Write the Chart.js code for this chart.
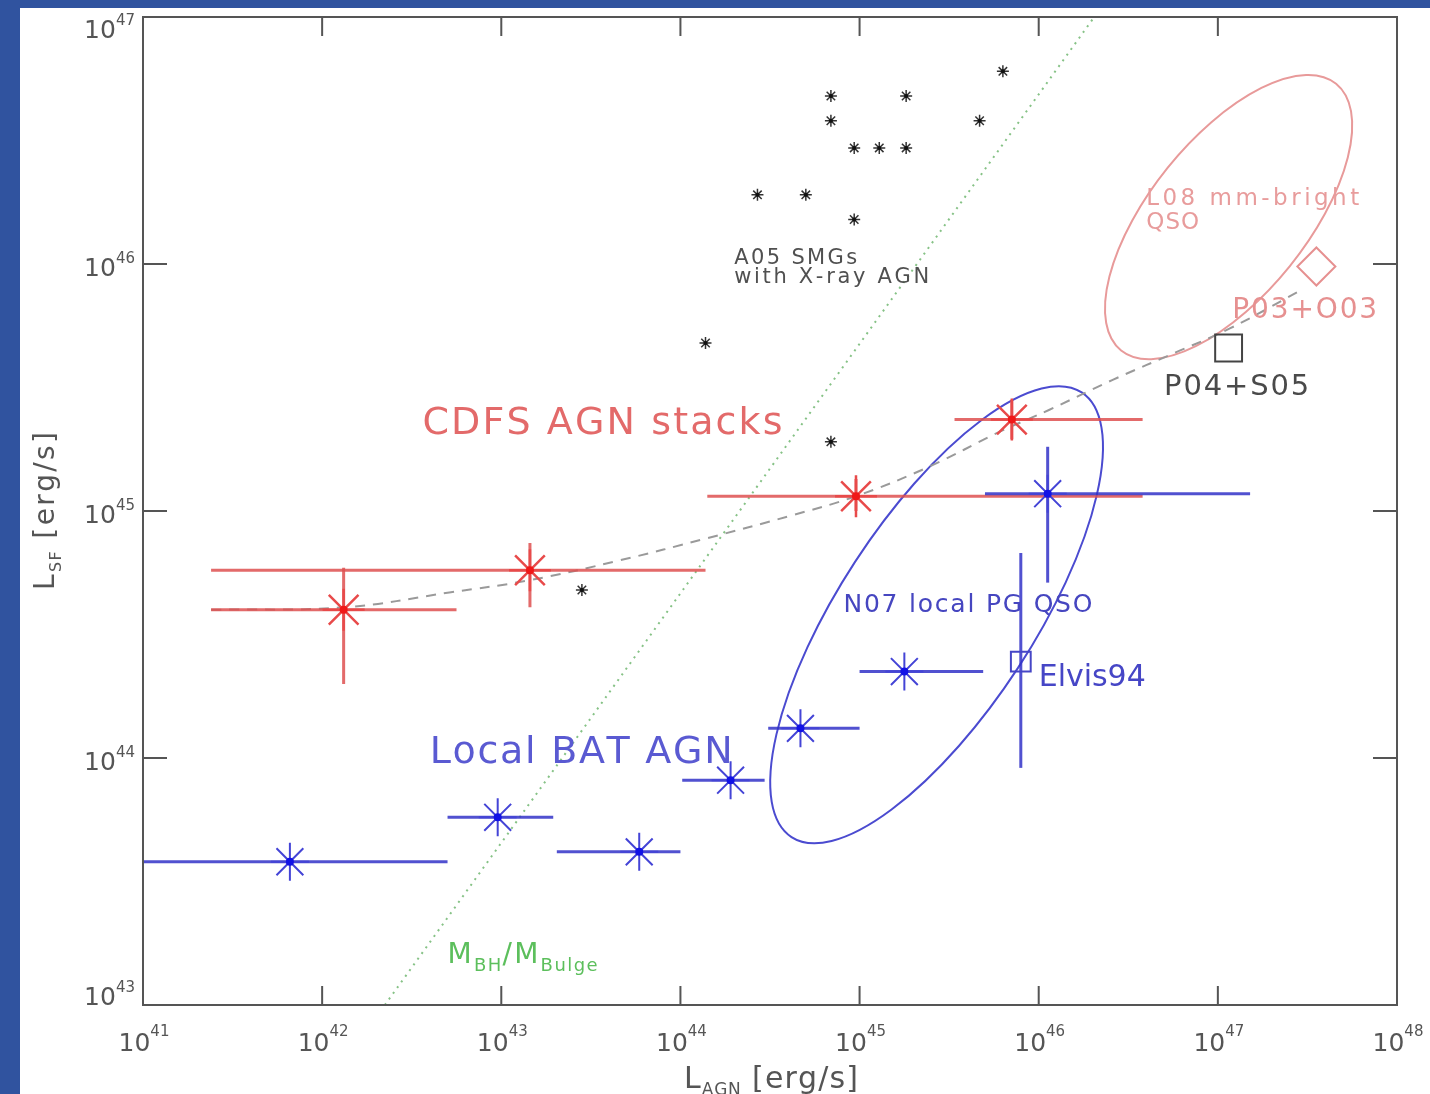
<!DOCTYPE html>
<html>
<head>
<meta charset="utf-8">
<script src="https://cdn.jsdelivr.net/npm/chart.js@4.4.1/dist/chart.umd.min.js"></script>
<style>
  html, body { margin: 0; padding: 0; background: #30539f; overflow: hidden; }
  #panel { position: absolute; left: 20px; top: 8px; width: 1410px; height: 1086px; background: #fff; }
</style>
</head>
<body>
<div id="panel"><canvas id="chart" width="1410" height="1086"></canvas></div>
<script>
// ══════════════════════════════════════════════════
//  DATA  (all values are log10 of the luminosity in erg/s)
// ══════════════════════════════════════════════════
const xDecades = [41, 42, 43, 44, 45, 46, 47, 48];
const yDecades = [43, 44, 45, 46, 47];

// CDFS AGN stacks (red)
const cdfsX   = [42.12, 43.16, 44.98, 45.85];
const cdfsY   = [44.60, 44.76, 45.06, 45.37];
const cdfsXlo = [41.38, 41.38, 44.15, 45.53];
const cdfsXhi = [42.75, 44.14, 46.58, 46.58];
const cdfsYlo = [44.30, 44.61, 45.00, 45.29];
const cdfsYhi = [44.77, 44.87, 45.13, 45.45];

// Local BAT AGN (blue)
const batX   = [41.82, 42.98, 43.77, 44.28, 44.67, 45.25];
const batY   = [43.58, 43.76, 43.62, 43.91, 44.12, 44.35];
const batXlo = [41.00, 42.70, 43.31, 44.01, 44.49, 45.00];
const batXhi = [42.70, 43.29, 44.00, 44.47, 45.00, 45.69];

// N07 local PG QSO mean (blue)
const pgX = [46.05], pgY = [45.07];
const pgXlo = [45.70], pgXhi = [47.18];
const pgYlo = [44.71], pgYhi = [45.26];

// Elvis94 (blue square)
const elvisX = [45.90], elvisY = [44.39];
const elvisYlo = [43.96], elvisYhi = [44.83];

// A05 SMGs with X-ray AGN (black)
const smgX = [45.80, 44.84, 45.26, 44.84, 45.67, 44.97, 45.11, 45.26, 44.43, 44.70, 44.97, 44.14, 44.84, 43.45];
const smgY = [46.78, 46.68, 46.68, 46.58, 46.58, 46.47, 46.47, 46.47, 46.28, 46.28, 46.18, 45.68, 45.28, 44.68];

// single objects
const p04X = [47.06], p04Y = [45.66];
const p03X = [47.55], p03Y = [45.99];

// dashed grey track
const trackX = [41.38, 42.12, 42.71, 43.16, 43.66, 44.15, 44.61, 44.98, 45.39, 45.78, 46.06, 46.41, 46.79, 47.07, 47.48];
const trackY = [44.60, 44.61, 44.67, 44.72, 44.80, 44.89, 44.98, 45.06, 45.18, 45.32, 45.41, 45.53, 45.65, 45.74, 45.90];

// M_BH / M_Bulge relation (dotted green)
const bulgeX = [42.35, 46.31];
const bulgeY = [43.00, 47.00];

// ellipses: centre, end of major axis, end of minor axis  [x, y]
const n07Ellipse = [[45.43, 44.58], [46.24, 45.48], [45.88, 44.36]];
const l08Ellipse = [[47.06, 46.19], [47.66, 46.73], [47.40, 45.99]];

// ══════════════════════════════════════════════════
//  HELPERS
// ══════════════════════════════════════════════════
const FONT = "'DejaVu Sans', 'Liberation Sans', sans-serif";
const P = v => Math.pow(10, v);
const pts = (xs, ys) => xs.map((x, i) => ({ x: P(x), y: P(ys[i]) }));

function hBars(ys, lo, hi) {
  const out = [];
  ys.forEach((y, i) => {
    out.push({ x: P(lo[i]), y: P(y) }, { x: P(hi[i]), y: P(y) }, { x: P(hi[i]), y: null });
  });
  return out;
}
function vBars(xs, lo, hi) {
  const out = [];
  xs.forEach((x, i) => {
    out.push({ x: P(x), y: P(lo[i]) }, { x: P(x), y: P(hi[i]) }, { x: P(x), y: null });
  });
  return out;
}

function barSet(data, color, order) {
  return { data, showLine: true, spanGaps: false, borderColor: color, borderWidth: 3,
           pointRadius: 0, order };
}
function markSet(data, style, r, color, bw, order) {
  return { data, showLine: false, pointStyle: style, pointRadius: r, borderColor: color,
           pointBorderColor: color, pointBackgroundColor: 'rgba(0,0,0,0)', pointBorderWidth: bw, order };
}
function dotSet(data, r, color, order) {
  return { data, showLine: false, pointStyle: 'circle', pointRadius: r,
           pointBackgroundColor: color, pointBorderColor: color, pointBorderWidth: 0, order };
}

// text with sub/superscripts: parts = [[text, size, dy], ...]
// extra letter spacing (to reach width w) is shared out in proportion to font size
function drawRich(ctx, parts, x, y, color, w, align) {
  ctx.save();
  ctx.fillStyle = color;
  ctx.textAlign = 'left';
  ctx.textBaseline = 'alphabetic';
  const chars = [];
  parts.forEach(p => {
    ctx.font = `${p[1]}px ${FONT}`;
    for (const ch of p[0]) chars.push({ ch, size: p[1], dy: p[2] || 0, w: ctx.measureText(ch).width });
  });
  const nat = chars.reduce((a, c) => a + c.w, 0);
  const sizeSum = chars.slice(0, -1).reduce((a, c) => a + c.size, 0) || 1;
  const k = w ? (w - nat) / sizeSum : 0;
  const total = w || nat;
  let cx = align === 'center' ? x - total / 2 : align === 'right' ? x - total : x;
  chars.forEach(c => {
    ctx.font = `${c.size}px ${FONT}`;
    ctx.fillText(c.ch, cx, y + c.dy);
    cx += c.w + k * c.size;
  });
  ctx.restore();
}

// annotations placed in data coordinates (left edge, baseline)
const notes = [
  { parts: [['A05 SMGs', 21]],        x: 44.30, y: 46.00, w: 123, color: '#505050' },
  { parts: [['with X-ray AGN', 21]],  x: 44.30, y: 45.925, w: 195, color: '#505050' },
  { parts: [['CDFS AGN stacks', 38]], x: 42.56, y: 45.31, w: 360, color: '#e36a6a' },
  { parts: [['Local BAT AGN', 38]],   x: 42.60, y: 43.98, w: 303, color: '#5a5ad2' },
  { parts: [['N07 local PG QSO', 25]],x: 44.91, y: 44.59, w: 249, color: '#4646c0' },
  { parts: [['Elvis94', 30]],         x: 46.00, y: 44.29, w: 107, color: '#4646c6' },
  { parts: [['L08 mm-bright', 23]],   x: 46.60, y: 46.24, w: 213, color: '#e89c9c' },
  { parts: [['QSO', 23]],             x: 46.60, y: 46.14, w: 53,  color: '#e89c9c' },
  { parts: [['P03+O03', 28]],         x: 47.08, y: 45.78, w: 145, color: '#e69090' },
  { parts: [['P04+S05', 29]],         x: 46.70, y: 45.47, w: 145, color: '#4a4a4a' },
  { parts: [['M', 28], ['BH', 18, 8], ['/', 28], ['M', 28], ['Bulge', 18, 8]],
    x: 42.70, y: 43.17, w: 150, color: '#5cbf5c' },
];

// ══════════════════════════════════════════════════
//  PLUGIN: frame, ticks, labels, ellipses, notes
// ══════════════════════════════════════════════════
const framePlugin = {
  id: 'frame',
  beforeDatasetsDraw(chart) {
    const { ctx, scales: { x: xs, y: ys } } = chart;
    const px = v => xs.getPixelForValue(P(v)), py = v => ys.getPixelForValue(P(v));
    [[n07Ellipse, '#4b4bd0'], [l08Ellipse, '#e89a9a']].forEach(([e, col]) => {
      const c = [px(e[0][0]), py(e[0][1])], m = [px(e[1][0]), py(e[1][1])], n = [px(e[2][0]), py(e[2][1])];
      const a = Math.hypot(m[0] - c[0], m[1] - c[1]);
      const b = Math.hypot(n[0] - c[0], n[1] - c[1]);
      const rot = Math.atan2(m[1] - c[1], m[0] - c[0]);
      ctx.save();
      ctx.strokeStyle = col; ctx.lineWidth = 2;
      ctx.beginPath(); ctx.ellipse(c[0], c[1], a, b, rot, 0, Math.PI * 2); ctx.stroke();
      ctx.restore();
    });
  },
  afterDraw(chart) {
    const { ctx, chartArea: ca, scales: { x: xs, y: ys } } = chart;
    const px = v => xs.getPixelForValue(P(v)), py = v => ys.getPixelForValue(P(v));
    ctx.save();
    ctx.strokeStyle = '#555'; ctx.lineWidth = 2;
    ctx.strokeRect(ca.left, ca.top, ca.right - ca.left, ca.bottom - ca.top);
    ctx.beginPath();
    xDecades.forEach(d => {
      const x = px(d);
      ctx.moveTo(x, ca.bottom); ctx.lineTo(x, ca.bottom - 19);
      ctx.moveTo(x, ca.top); ctx.lineTo(x, ca.top + 19);
    });
    yDecades.forEach(d => {
      const y = py(d);
      ctx.moveTo(ca.left, y); ctx.lineTo(ca.left + 24, y);
      ctx.moveTo(ca.right, y); ctx.lineTo(ca.right - 24, y);
    });
    ctx.stroke();
    ctx.restore();

    // tick labels
    xDecades.forEach(d => {
      drawRich(ctx, [['10', 25], [String(d), 15, -15]], px(d) + 1, ca.bottom + 46, '#555', 0, 'center');
    });
    yDecades.forEach(d => {
      const base = Math.min(Math.max(py(d) + 12, ca.top + 21), ca.bottom);
      drawRich(ctx, [['10', 25], [String(d), 15, -13]], ca.left - 8, base, '#555', 0, 'right');
    });

    // axis titles
    drawRich(ctx, [['L', 30], ['AGN', 17, 7], [' [erg/s]', 30]], 751, 1080, '#555', 174, 'center');
    ctx.save();
    ctx.translate(34, 503);
    ctx.rotate(-Math.PI / 2);
    drawRich(ctx, [['L', 28], ['SF', 16, 7], [' [erg/s]', 28]], 0, 0, '#555', 158, 'center');
    ctx.restore();

    notes.forEach(nt => drawRich(ctx, nt.parts, px(nt.x), py(nt.y), nt.color, nt.w, 'left'));
  }
};

// ══════════════════════════════════════════════════
//  CHART
// ══════════════════════════════════════════════════
const RED_BAR = 'rgba(222,80,80,0.85)', RED_MARK = '#e84a4a', RED_DOT = '#f01818';
const BLUE_BAR = 'rgba(50,50,200,0.85)', BLUE_MARK = '#4444d6', BLUE_DOT = '#1212e6';

const datasets = [
  // markers on top
  dotSet(pts(cdfsX, cdfsY), 4, RED_DOT, 1),
  dotSet(pts(batX, batY), 4, BLUE_DOT, 1),
  dotSet(pts(pgX, pgY), 4, BLUE_DOT, 1),
  dotSet(pts(smgX, smgY), 2, '#111', 1),
  markSet(pts(cdfsX, cdfsY), 'star', 21, RED_MARK, 2.5, 2),
  markSet(pts(batX, batY), 'star', 19, BLUE_MARK, 2, 2),
  markSet(pts(pgX, pgY), 'star', 19, BLUE_MARK, 2, 2),
  markSet(pts(smgX, smgY), 'star', 6, '#333', 1.5, 2),
  markSet(pts(elvisX, elvisY), 'rect', 14, '#4646c6', 2, 2),
  markSet(pts(p04X, p04Y), 'rect', 19, '#444', 2, 2),
  markSet(pts(p03X, p03Y), 'rectRot', 19, '#e69090', 2, 2),
  // error bars
  barSet(hBars(pgY, pgXlo, pgXhi), BLUE_BAR, 4),
  barSet(vBars(pgX, pgYlo, pgYhi), BLUE_BAR, 4),
  barSet(vBars(elvisX, elvisYlo, elvisYhi), BLUE_BAR, 4),
  barSet(hBars(batY, batXlo, batXhi), BLUE_BAR, 4),
  barSet(hBars(cdfsY, cdfsXlo, cdfsXhi), RED_BAR, 5),
  barSet(vBars(cdfsX, cdfsYlo, cdfsYhi), RED_BAR, 5),
  // lines
  { data: pts(trackX, trackY), showLine: true, borderColor: '#9a9a9a', borderWidth: 2,
    borderDash: [10, 8], pointRadius: 0, tension: 0.4, order: 8 },
  { data: pts(bulgeX, bulgeY), showLine: true, borderColor: '#86c286', borderWidth: 2,
    borderDash: [2, 5], pointRadius: 0, order: 9 },
];

new Chart(document.getElementById('chart').getContext('2d'), {
  type: 'scatter',
  data: { datasets },
  options: {
    responsive: false,
    animation: false,
    events: [],
    layout: { autoPadding: false, padding: { left: 123, top: 9, right: 33, bottom: 89 } },
    plugins: { legend: { display: false }, tooltip: { enabled: false } },
    scales: {
      x: { type: 'logarithmic', min: P(41), max: P(48), display: false },
      y: { type: 'logarithmic', min: P(43), max: P(47), display: false },
    },
  },
  plugins: [framePlugin],
});
</script>
</body>
</html>
